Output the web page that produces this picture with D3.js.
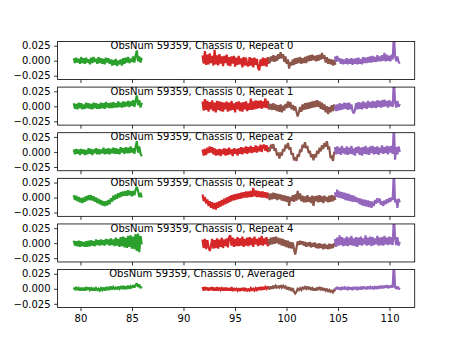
<!DOCTYPE html>
<html><head><meta charset="utf-8">
<script src="https://cdn.jsdelivr.net/npm/d3@7"></script>
<style>body{margin:0;background:#fff}svg{display:block}text{font-family:"DejaVu Sans",sans-serif;font-size:10px;fill:#000}</style>
</head><body>
<script>
const titles = ["ObsNum 59359, Chassis 0, Repeat 0","ObsNum 59359, Chassis 0, Repeat 1","ObsNum 59359, Chassis 0, Repeat 2","ObsNum 59359, Chassis 0, Repeat 3","ObsNum 59359, Chassis 0, Repeat 4","ObsNum 59359, Chassis 0, Averaged"];
const xTicks = [80,85,90,95,100,105,110];
const yTicks = [-0.025,0,0.025];
const segRanges = {green:[79.35,85.95], red:[91.85,98.3], brown:[98.25,104.75], purple:[104.7,111.0]};
const green = [
[.004,-.004,.005,-.003,.003,-.005,.006,-.004,.004,-.005,.005,-.003,.002,-.006,.005,-.004,.006,-.002,.003,-.005,.006,-.004,.004,-.005,.003,-.006,.005,-.003,.004,-.005,.002,-.008,.001,-.007,.003,-.009,0,-.006,.002,-.008,.004,-.005,.005,-.003,.006,-.004,.003,-.002,.007,-.003,.008,.017,-.001,.007,-.003,.005],
[.005,-.004,.004,-.005,.006,-.003,.005,-.005,.003,-.004,.006,-.003,.005,-.004,.004,-.005,.006,-.003,.005,-.004,.004,-.004,.006,-.003,.005,-.004,.007,-.002,.005,-.003,.006,-.003,.007,-.002,.005,-.002,.008,-.001,.006,-.002,.008,-.001,.007,0,.009,-.001,.008,.001,.010,-.001,.009,.018,.002,.010,-.002,.006],
[.004,-.004,.005,-.003,.004,-.005,.005,-.003,.004,-.005,.003,-.004,.006,-.003,.005,-.005,.004,-.002,.006,-.004,.005,-.004,.004,-.002,.007,-.004,.005,-.003,.006,-.004,.005,-.002,.007,-.003,.006,-.003,.005,-.004,.008,-.001,.006,-.003,.008,-.002,.007,-.002,.009,-.001,.006,-.003,.008,.018,-.001,.009,-.003,-.007],
[.004,-.004,.003,-.006,.001,-.008,-.001,-.009,0,-.007,.002,-.005,.004,-.004,.004,-.005,.002,-.007,0,-.009,-.002,-.011,-.004,-.013,-.006,-.014,-.006,-.013,-.004,-.011,-.001,-.007,.003,-.004,.005,-.002,.007,0,.009,.002,.010,.003,.011,.003,.012,.004,.011,.002,.011,.004,.013,.018,.011,.001,.008,0],
[.004,-.004,.003,-.005,.004,-.006,.003,-.005,.002,-.006,.003,-.006,.004,-.005,.005,-.004,.003,-.005,.006,-.003,.005,-.004,.006,-.003,.005,-.004,.007,-.002,.006,-.004,.008,-.003,.006,-.005,.009,-.004,.007,-.006,.010,-.005,.011,-.007,.009,-.008,.012,-.006,.013,-.009,.011,-.010,.015,-.013,.016,-.015,.012,-.002],
[.002,-.002,.003,-.002,.001,-.003,.002,-.003,.002,-.003,.003,-.002,.002,-.002,.001,-.003,.002,-.003,.001,-.002,0,-.003,.001,-.002,.002,-.003,.003,-.002,.003,-.002,.004,-.001,.003,0,.002,-.001,.004,0,.003,0,.005,-.001,.004,.001,.005,0,.004,.001,.006,.002,.006,.009,.003,.007,.001,.004]
];
const red = [
[.009,-.005,.016,-.007,.010,-.006,.012,-.004,.008,-.008,.018,-.006,.009,-.008,.011,-.005,.007,-.009,.008,-.004,.010,-.008,.006,-.009,.007,-.005,.008,-.010,.005,-.007,.008,-.006,.004,-.011,.006,-.008,.005,-.007,-.009,.006,-.008,.004,-.011,.005,-.007,.003,-.012,-.016,.002,-.009,.005,-.008,.004,-.010,.006,-.005],
[.008,-.007,.012,-.006,.009,-.009,.007,-.005,.010,-.008,.006,-.010,.009,-.006,.008,-.008,.007,-.009,.006,-.005,.008,-.009,.006,-.007,.009,-.006,.005,-.010,.007,-.005,.008,-.008,.006,-.009,.007,-.005,.008,-.008,.005,-.006,.013,-.006,.008,-.005,.010,-.004,.009,-.003,.010,-.004,.008,-.002,.013,-.003,.009,-.005],
[.004,-.006,.005,-.005,.007,-.002,.009,-.001,.008,-.004,.006,-.006,.004,-.005,.005,-.007,.004,-.004,.006,-.006,.005,-.005,.007,-.004,.004,-.007,.006,-.003,.005,-.006,.006,-.003,.008,-.004,.007,-.002,.009,-.003,.008,-.001,.010,-.002,.008,0,.011,-.001,.009,.001,.012,0,.010,.012,.002,.011,0,.008],
[.005,-.006,.001,-.010,-.003,-.014,-.006,-.017,-.008,-.019,-.009,-.020,-.008,-.017,-.006,-.015,-.004,-.013,-.002,-.011,0,-.009,.002,-.007,.004,-.005,.005,-.004,.006,-.003,.007,-.002,.008,-.001,.009,0,.010,0,.010,.001,.011,.001,.016,.002,.012,.001,.011,.001,.010,0,.010,0,.009,-.001,.008,-.002],
[.006,-.008,.007,-.010,.005,-.006,-.013,-.005,.007,-.009,.005,-.008,.008,-.009,.006,-.006,.009,-.008,.006,-.005,.008,-.007,.010,.013,-.004,.009,-.006,.007,-.005,.010,-.005,.008,-.004,.011,-.006,.007,-.004,.009,-.005,.010,-.003,.008,-.006,.011,-.002,.007,-.005,.009,-.003,.012,-.004,.008,-.002,.010,-.005,.005],
[.003,-.003,.003,-.002,.002,-.003,.002,-.002,.003,-.003,.002,-.003,.003,-.003,.002,-.002,.001,-.003,.002,-.003,.002,-.003,.001,-.003,.003,-.004,.001,-.002,0,-.003,.001,-.004,.001,-.003,.002,-.004,.001,-.003,-.001,-.003,.001,-.002,0,-.003,.001,-.002,.002,-.002,.003,-.002,.003,-.001,.003,0,.004,0]
];
const brown = [
[.005,-.004,.007,-.001,.009,-.002,.008,0,.011,.003,.014,.004,.011,-.002,.007,-.005,.002,-.013,-.002,-.008,.002,-.007,.004,-.005,.005,-.004,.006,-.005,.004,-.004,.006,-.004,.008,-.001,.009,0,.010,.001,.008,-.001,.009,0,.010,.002,.013,.003,.009,-.003,.006,-.005,.003,-.006,.002,-.008,.001,-.007],
[.005,-.005,.004,-.006,.005,-.006,.003,-.008,.002,-.009,.003,-.010,.001,-.007,.004,-.003,.008,-.002,.007,-.005,.002,-.007,0,-.009,-.017,-.010,-.001,-.009,.003,-.006,.005,-.005,.006,-.004,.007,-.003,.008,-.002,.009,-.001,.010,-.001,.008,-.004,.006,-.006,.003,-.010,0,-.013,-.001,-.010,.002,-.008,.003,-.005],
[.006,.001,.012,.006,.013,.002,.006,-.006,-.001,-.011,-.001,-.006,.005,.001,.012,.006,.015,.004,.008,-.005,-.002,-.014,-.009,-.015,-.004,-.008,.004,0,.012,.007,.016,.006,.010,-.002,.002,-.009,-.004,-.014,-.004,-.009,.002,-.003,.007,.001,.011,.005,.015,.009,.018,.006,.007,-.010,-.008,-.015,0,-.002],
[.006,-.004,.007,-.003,.008,-.002,.007,-.004,.006,-.003,.005,-.005,.004,-.006,.003,-.007,.002,-.014,.001,-.006,.004,-.007,.005,-.005,.011,-.003,.007,-.006,.003,-.008,.002,-.008,.004,-.007,.001,-.009,.003,-.014,.002,-.006,.003,-.008,.004,-.007,.002,-.009,.003,-.006,.001,-.008,.003,-.007,.004,-.006,.003,-.004],
[.007,-.003,.009,-.002,.010,-.001,.011,0,.009,-.002,.008,-.004,.007,-.005,.005,-.007,.004,-.008,.002,-.009,.001,-.010,-.019,-.008,.003,-.003,.004,-.002,.003,-.004,.002,-.006,.001,-.005,.002,-.007,0,-.006,.001,-.008,-.001,-.009,0,-.008,-.002,-.010,-.001,-.009,-.003,-.010,-.001,-.009,-.002,-.008,0,-.005],
[.003,-.001,.004,0,.005,.001,.005,.002,.004,.002,.006,.002,.005,.002,.004,-.001,.003,-.002,.002,-.004,.001,-.005,-.008,-.005,0,-.002,.001,-.002,.002,0,.003,0,.004,-.001,.003,-.002,.001,-.003,.001,-.003,.002,-.002,.003,-.001,.002,-.003,.001,-.003,0,-.005,-.002,-.005,-.003,-.006,-.002,-.004]
];
const purple = [
[.007,-.002,.008,-.001,.004,-.005,.003,-.006,.002,-.005,.004,-.006,.003,-.005,.004,-.007,.003,-.005,.004,-.006,.005,-.005,.003,-.006,.006,-.004,.005,-.004,.006,-.003,.007,-.003,.008,-.002,.006,-.002,.009,-.001,.007,-.001,.009,0,.013,-.001,.010,0,.008,-.001,.010,.002,.045,.008,-.001,.007,-.002,-.005],
[.002,-.008,.003,-.007,.005,-.006,.004,-.005,.006,-.004,.005,-.006,.006,-.005,.003,-.008,-.012,-.006,.005,-.005,.007,-.004,.006,-.005,.008,-.003,.006,-.004,.009,-.002,.007,-.003,.009,-.002,.008,-.003,.010,-.001,.009,-.002,.010,-.001,.011,0,.009,-.002,.010,0,.008,-.001,.045,.007,-.002,.009,-.001,.004],
[.008,-.004,.009,-.003,.007,-.005,.010,-.002,.006,-.004,.009,-.005,.007,-.003,.010,-.004,.006,-.006,.008,-.002,.009,-.005,.007,-.006,.008,-.003,.010,-.004,.007,-.005,.009,-.002,.010,-.004,.008,-.003,.009,-.005,.007,-.002,.011,-.003,.008,-.002,.010,-.004,.009,-.001,.010,-.003,.045,-.013,.008,-.004,.009,0],
[.009,.001,.013,0,.010,-.001,.009,-.002,.008,-.004,.007,-.005,.006,-.006,.004,-.007,.003,-.007,.001,-.008,-.001,-.011,-.002,-.013,-.003,-.014,-.004,-.015,-.005,-.016,-.006,-.017,-.007,-.014,-.004,-.010,-.001,-.008,-.002,-.012,-.006,-.014,-.005,-.011,-.003,-.009,-.001,-.007,0,-.004,.045,-.008,-.003,-.017,-.002,-.008],
[.007,-.006,.009,-.004,.013,-.003,.010,-.005,.008,-.004,.011,-.005,.009,-.003,.012,-.004,.008,-.005,.010,-.006,.009,-.003,.011,-.004,.008,-.002,.013,-.004,.009,-.003,.011,-.005,.010,-.003,.008,-.002,.012,-.004,.009,-.003,.010,-.004,.012,-.002,.009,-.003,.011,-.002,.010,-.003,.045,.009,-.003,.010,-.004,.002],
[.002,-.001,.003,-.001,.002,-.002,.003,-.001,.002,-.001,.003,-.002,.003,-.001,.002,-.002,.003,-.001,.003,-.002,.003,-.001,.002,-.001,.004,0,.003,-.001,.004,0,.003,0,.004,-.001,.003,.001,.004,0,.005,.001,.004,.001,.005,.002,.006,.001,.005,.002,.006,.002,.045,.003,0,.004,-.001,.002]
];
const colors = {green:"#2ca02c", red:"#d62728", brown:"#8c564b", purple:"#9467bd"};

const W = 461, H = 346, FW = 460.8, FH = 345.6;
const left = 0.125*FW, right = 0.9*FW, top0 = 0.12*FH, bot = 0.89*FH;
const ph = (bot - top0)/(6 + 5*0.2), gap = ph*0.2;
const svg = d3.select("body").append("svg").attr("width",W).attr("height",H);
const x = d3.scaleLinear().domain([77.78,112.45]).range([left,right]);
const series = {green, red, brown, purple};

titles.forEach((t,i) => {
  const top = top0 + i*(ph+gap);
  const y = d3.scaleLinear().domain([-0.0313,0.032]).range([top+ph, top]);
  const g = svg.append("g");
  g.append("clipPath").attr("id","c"+i).append("rect")
    .attr("x",left).attr("y",top).attr("width",right-left).attr("height",ph);
  const lg = g.append("g").attr("clip-path",`url(#c${i})`);
  Object.keys(series).forEach(k => {
    const vals = series[k][i];
    const [a,b] = segRanges[k];
    const xs = vals.map((v,j) => a + (b-a)*j/(vals.length-1));
    const line = d3.line().x((d,j)=>x(xs[j])).y(d=>y(d));
    lg.append("path").datum(vals).attr("d",line).attr("fill","none")
      .attr("stroke",colors[k]).attr("stroke-width",2.2).attr("stroke-linejoin","miter").attr("stroke-miterlimit",2);
  });
  const xa = d3.axisBottom(x).tickValues(xTicks).tickSize(3.5).tickPadding(3.5)
    .tickFormat(i===5 ? d3.format("d") : () => "");
  const xg = g.append("g").attr("transform",`translate(0,${top+ph})`).call(xa);
  const ya = d3.axisLeft(y).tickValues(yTicks).tickSize(3.5).tickPadding(3.5).tickFormat(d3.format(".3f"));
  const yg = g.append("g").attr("transform",`translate(${left},0)`).call(ya);
  [xg,yg].forEach(s => {
    s.select(".domain").remove();
    s.selectAll(".tick line").attr("stroke","#000").attr("stroke-width",0.8);
    s.selectAll(".tick text").style("font-family","DejaVu Sans").style("font-size","10px").attr("fill","#000");
  });
  g.append("rect").attr("x",left).attr("y",top).attr("width",right-left).attr("height",ph)
    .attr("fill","none").attr("stroke","#000").attr("stroke-width",0.8);
  g.append("text").attr("x",202).attr("y",top+7.7).attr("text-anchor","middle").text(t);
});
</script>
</body></html>
